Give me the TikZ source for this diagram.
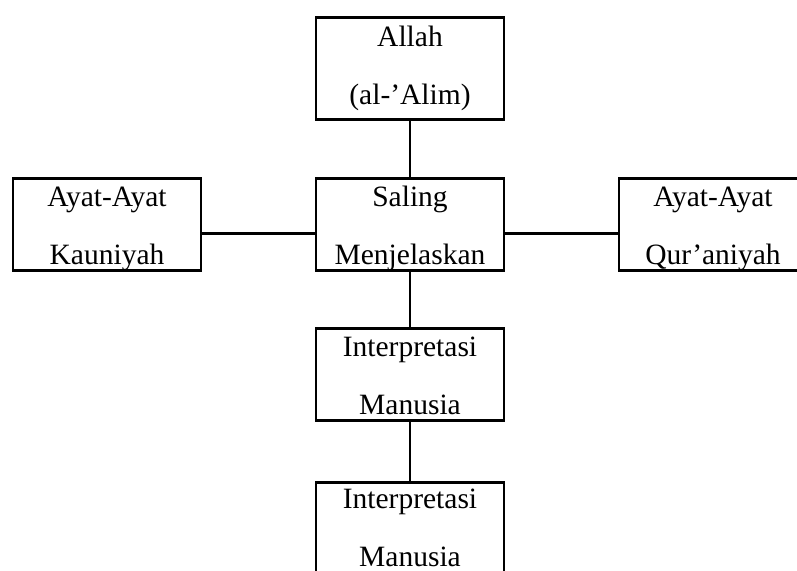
\documentclass[tikz,border=0pt]{standalone}
\usepackage{fontspec}
\setmainfont{Liberation Serif}
\tikzset{
	kotak/.style={draw, line width=2.5pt, inner sep=0pt, align=center, text width=188pt,
		font=\fontsize{29.5pt}{58pt}\selectfont, text height=28pt, text depth=64pt},
	garis/.style={line width=2.5pt}
}
\begin{document}
\begin{tikzpicture}[x=1pt,y=1pt]%[overlay]
		\useasboundingbox (0,0) rectangle (797,-570);
		\coordinate (atas) at (410,-16);
		\coordinate (tengah) at (410,-177);
		\coordinate (kiri) at (107,-177);
		\coordinate (kanan) at (713,-177);
		\coordinate (bawah) at (410,-327);
		\coordinate (dasar) at (410,-481);

		\node [kotak, anchor=north, text height=29pt, text depth=73pt] (allah) at (atas) {Allah\\(al-’Alim)};
\node [kotak, anchor=north] (saling) at (tengah) {Saling\\Menjelaskan};
\node [kotak, anchor=north] (kauniyah) at (kiri) {Ayat-Ayat\\Kauniyah};
\node [kotak, anchor=north] (quraniyah) at (kanan) {Ayat-Ayat\\Qur’aniyah};
\node [kotak, anchor=north] (tafsir1) at (bawah) {Interpretasi\\Manusia};
\node [kotak, anchor=north, text height=26pt] (tafsir2) at (dasar) {Interpretasi\\Manusia};

		\draw [garis] (allah) -- (saling);
\draw [garis] ([yshift=-9pt]kauniyah.east) -- ([yshift=-9pt]saling.west);
\draw [garis] ([yshift=-9pt]saling.east) -- ([yshift=-9pt]quraniyah.west);
\draw [garis] (saling) -- (tafsir1);
\draw [garis] (tafsir1) -- (tafsir2);


		\end{tikzpicture}
\end{document}
